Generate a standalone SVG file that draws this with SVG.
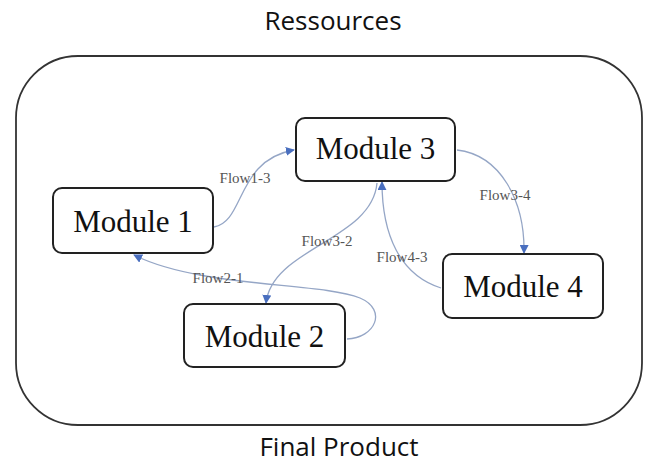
<svg xmlns="http://www.w3.org/2000/svg" width="654" height="464" viewBox="0 0 654 464">
<style>
.title{font-family:"Open Sans","Liberation Sans",sans-serif;font-size:26px;fill:#111;text-anchor:middle}
.box{fill:#fff;stroke:#222;stroke-width:2}
.mod{font-family:"Liberation Serif",serif;font-size:31px;fill:#111;text-anchor:middle}
.edge{fill:none;stroke:#95a6c6;stroke-width:1.3}
.lbl{font-family:"Liberation Serif",serif;font-size:15px;fill:#555;text-anchor:middle}
</style>
<defs>
<marker id="ah" viewBox="0 0 10 10" refX="9" refY="5" markerWidth="9" markerHeight="9" markerUnits="userSpaceOnUse" orient="auto">
<path d="M0,0 L10,5 L0,10 z" fill="#4a6fbf"/>
</marker>
</defs>
<rect width="654" height="464" fill="#fff"/>
<text class="title" x="333" y="30">Ressources</text>
<rect x="16" y="56" width="626" height="369" rx="62" ry="62" fill="none" stroke="#333" stroke-width="1.8"/>
<text class="title" x="339" y="456">Final Product</text>
<g id="connectors">
<path class="edge" marker-end="url(#ah)" d="M214 227 C245 222,236 160,294 150"/>
<path class="edge" marker-end="url(#ah)" d="M457 150 C500 155,525 200,524 253"/>
<path class="edge" marker-end="url(#ah)" d="M441 288 C400 275,382 235,382 182"/>
<path class="edge" marker-end="url(#ah)" d="M377 183 C372 240,272 248,266 303"/>
<path class="edge" marker-end="url(#ah)" d="M347 339 C375 338,388 310,360 298 C320 282,200 288,134 255"/>
<text class="lbl" x="245" y="183">Flow1-3</text>
<text class="lbl" x="505" y="200">Flow3-4</text>
<text class="lbl" x="402" y="262">Flow4-3</text>
<text class="lbl" x="327" y="246">Flow3-2</text>
<text class="lbl" x="218" y="283">Flow2-1</text>
</g>
<g id="module3"><rect class="box" x="296" y="118" width="159" height="63" rx="9"/><text class="mod" x="375.5" y="159">Module 3</text></g>
<g id="module1"><rect class="box" x="53" y="188" width="160" height="65" rx="9"/><text class="mod" x="133" y="232">Module 1</text></g>
<g id="module2"><rect class="box" x="184" y="304" width="161" height="63" rx="9"/><text class="mod" x="264.5" y="347">Module 2</text></g>
<g id="module4"><rect class="box" x="443" y="254" width="160" height="64" rx="9"/><text class="mod" x="523" y="297">Module 4</text></g>
</svg>
